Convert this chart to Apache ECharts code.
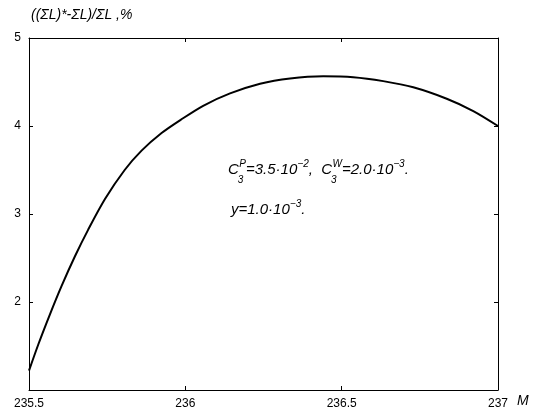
<!DOCTYPE html>
<html><head><meta charset="utf-8">
<script src="https://cdn.jsdelivr.net/npm/echarts@6/dist/echarts.min.js"></script>
<style>html,body{margin:0;padding:0;background:#fff}#c{width:539px;height:412px}</style>
</head><body><div id="c"></div>
<script>
const xValues = [235.5, 235.53, 235.567, 235.604, 235.647, 235.689, 235.743, 235.806, 235.86, 235.924, 235.985, 236.057, 236.143, 236.239, 236.335, 236.441, 236.537, 236.633, 236.729, 236.836, 236.921, 237];
const yValues = [1.22, 1.52, 1.86, 2.18, 2.52, 2.82, 3.17, 3.50, 3.72, 3.92, 4.07, 4.23, 4.37, 4.48, 4.54, 4.565, 4.555, 4.51, 4.44, 4.31, 4.17, 4.0];
const xTicks = [235.5, 236, 236.5, 237];
const yTicks = [2, 3, 4, 5];

const FAM = 'Liberation Sans, Arial, sans-serif';
const chart = echarts.init(document.getElementById('c'), null, {renderer: 'canvas'});
const axisCommon = {
  axisLine: {show: true, lineStyle: {color: '#000', width: 1}},
  axisTick: {show: true, inside: true, length: 4, lineStyle: {color: '#000'}},
  splitLine: {show: false}
};

// text layout helpers (measure with canvas so pieces never overlap)
const ctx = document.createElement('canvas').getContext('2d');
function w(text, size) { ctx.font = 'italic ' + size + 'px ' + FAM; return ctx.measureText(text).width; }
const MAIN = 15, SMALL = 10;
function st(size, text) { return {text: text, fontFamily: FAM, fontStyle: 'italic', fontSize: size, fill: '#000'}; }
function buildLine(x0, top, parts) {
  const els = [];
  let x = x0;
  parts.forEach(p => {
    if (p.main !== undefined) {
      els.push({type: 'text', left: x, top: top, style: st(MAIN, p.main)});
      x += w(p.main, MAIN);
    } else if (p.sup !== undefined && p.sub !== undefined) {
      els.push({type: 'text', left: x + 0.5, top: top - 3, style: st(SMALL, p.sup)});
      els.push({type: 'text', left: x - 1, top: top + 13, style: st(SMALL, p.sub)});
      x += Math.max(w(p.sup, SMALL), w(p.sub, SMALL)) + 0.5;
    } else if (p.sup !== undefined) {
      els.push({type: 'text', left: x, top: top - 3, style: st(SMALL, p.sup)});
      x += w(p.sup, SMALL);
    }
  });
  return els;
}
const line1 = buildLine(228, 162, [
  {main: 'C'}, {sup: 'P', sub: '3'}, {main: '=3.5·10'}, {sup: '−2'}, {main: ',  C'},
  {sup: 'W', sub: '3'}, {main: '=2.0·10'}, {sup: '−3'}, {main: '.'}
]);
const line2 = buildLine(231, 202, [
  {main: 'y=1.0·10'}, {sup: '−3'}, {main: '.'}
]);

chart.setOption({
  animation: false,
  backgroundColor: '#fff',
  grid: {left: 29, right: 41, top: 38, bottom: 22},
  xAxis: [
    Object.assign({type: 'value', min: 235.5, max: 237, interval: 0.5, position: 'bottom',
      axisLabel: {color: '#000', fontFamily: FAM, fontSize: 12, margin: 8,
        formatter: v => xTicks.indexOf(+v.toFixed(1)) >= 0 ? String(+v.toFixed(1)) : ''}}, axisCommon),
    Object.assign({type: 'value', min: 235.5, max: 237, interval: 0.5, position: 'top', axisLabel: {show: false}}, axisCommon)
  ],
  yAxis: [
    Object.assign({type: 'value', min: 1, max: 5, interval: 1, position: 'left',
      axisLabel: {color: '#000', fontFamily: FAM, fontSize: 12, margin: 8,
        formatter: v => yTicks.indexOf(v) >= 0 ? String(v) : ''}}, axisCommon),
    Object.assign({type: 'value', min: 1, max: 5, interval: 1, position: 'right', axisLabel: {show: false}}, axisCommon)
  ],
  series: [{
    type: 'line', smooth: 0.3, symbol: 'none',
    lineStyle: {color: '#000', width: 2},
    data: xValues.map((x, i) => [x, yValues[i]])
  }],
  graphic: [
    {type: 'text', left: 31, top: 8, style: st(14, '((ΣL)*-ΣL)/ΣL ,%')},
    {type: 'text', left: 517, top: 394, style: st(14, 'M')}
  ].concat(line1, line2)
});
</script></body></html>
